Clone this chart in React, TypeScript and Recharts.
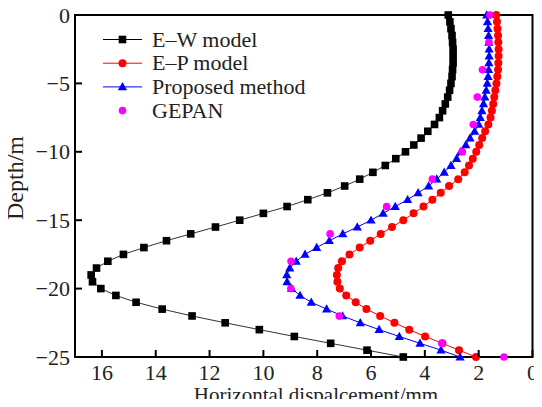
import { ScatterChart, Scatter, XAxis, YAxis, ReferenceArea } from "recharts"

// depth below ground (m), one point every 0.5 m
const depths = [
  0, -0.5, -1, -1.5, -2, -2.5, -3, -3.5, -4, -4.5, -5, -5.5, -6, -6.5, -7, -7.5, -8,
  -8.5, -9, -9.5, -10, -10.5, -11, -11.5, -12, -12.5, -13, -13.5, -14, -14.5, -15,
  -15.5, -16, -16.5, -17, -17.5, -18, -18.5, -19, -19.5, -20, -20.5, -21, -21.5, -22,
  -22.5, -23, -23.5, -24, -24.5, -25,
]

// horizontal displacement (mm)
const ewModel = [
  3.13, 3.07, 3.03, 2.99, 2.97, 2.95, 2.95, 2.95, 2.97, 2.99, 3.03, 3.08, 3.15, 3.24,
  3.34, 3.46, 3.64, 3.89, 4.14, 4.41, 4.72, 5.08, 5.47, 5.93, 6.42, 6.98, 7.62, 8.35,
  9.12, 10.0, 10.88, 11.78, 12.7, 13.6, 14.44, 15.2, 15.78, 16.2, 16.4, 16.35, 16.04,
  15.48, 14.73, 13.76, 12.65, 11.42, 10.15, 8.85, 7.5, 6.15, 4.8,
]

const epModel = [
  1.35, 1.32, 1.3, 1.28, 1.27, 1.26, 1.26, 1.27, 1.28, 1.31, 1.34, 1.38, 1.42, 1.46,
  1.51, 1.56, 1.64, 1.76, 1.87, 1.98, 2.09, 2.22, 2.36, 2.52, 2.76, 3.1, 3.41, 3.72,
  4.05, 4.42, 4.8, 5.22, 5.64, 6.03, 6.42, 6.8, 7.08, 7.22, 7.27, 7.25, 7.16, 6.92,
  6.57, 6.17, 5.66, 5.13, 4.58, 3.99, 3.35, 2.73, 2.1,
]

const proposed = [
  1.7, 1.67, 1.65, 1.63, 1.62, 1.61, 1.61, 1.62, 1.63, 1.65, 1.68, 1.72, 1.77, 1.82,
  1.88, 1.94, 2.0, 2.15, 2.32, 2.48, 2.67, 2.82, 3.03, 3.28, 3.56, 3.86, 4.25, 4.64,
  5.1, 5.55, 6.0, 6.51, 7.05, 7.55, 8.02, 8.45, 8.78, 9.02, 9.13, 9.12, 8.95, 8.64,
  8.22, 7.65, 7.06, 6.4, 5.7, 4.95, 4.18, 3.4, 2.69,
]

const gepanDepths = [0, -2, -4, -6, -8, -10, -12, -14, -16, -18, -20, -22, -24, -25]
const gepanValues = [1.58, 1.62, 1.86, 2.05, 2.2, 2.61, 3.72, 5.42, 7.52, 8.97, 8.98, 7.18, 3.37, 1.06]

const xTicks = [0, 2, 4, 6, 8, 10, 12, 14, 16]
const yTicks = [-25, -20, -15, -10, -5, 0]

const ewData = depths.map((d, i) => ({ x: ewModel[i], y: d }))
const epData = depths.map((d, i) => ({ x: epModel[i], y: d }))
const propData = depths.map((d, i) => ({ x: proposed[i], y: d }))
const gepanData = gepanDepths.map((d, i) => ({ x: gepanValues[i], y: d }))

const FONT = "'Liberation Serif', 'Times New Roman', serif"
const TXT = "#222"

const Square = ({ cx, cy }: any) => <rect x={cx - 3.8} y={cy - 3.8} width={7.6} height={7.6} fill="#000" />
const RedDot = ({ cx, cy }: any) => <circle cx={cx} cy={cy} r={4} fill="#ff0000" />
const Tri = ({ cx, cy }: any) => (
  <polygon points={`${cx},${cy - 4.8} ${cx - 4.6},${cy + 3.4} ${cx + 4.6},${cy + 3.4}`} fill="#0000ff" />
)
const PinkDot = ({ cx, cy }: any) => <circle cx={cx} cy={cy} r={3.8} fill="#ff00ff" />

const XTick = ({ x, y, payload }: any) => (
  <g>
    <line x1={x} y1={y} x2={x} y2={y - 7} stroke="#000" strokeWidth={2} />
    <text x={x} y={y + 23} textAnchor="middle" fontSize={22} fontFamily={FONT} fill={TXT}>
      {payload.value}
    </text>
  </g>
)

const YTick = ({ x, y, payload }: any) => (
  <g>
    <line x1={x} y1={y} x2={x + 7} y2={y} stroke="#000" strokeWidth={2} />
    <text x={x - 5} y={y + 7.5} textAnchor="end" fontSize={22} fontFamily={FONT} fill={TXT}>
      {String(payload.value).replace("-", "\u2212")}
    </text>
  </g>
)

const legendRows = [
  { name: "E\u2013W model", color: "#000", line: true, icon: "square" },
  { name: "E\u2013P model", color: "#ff0000", line: true, icon: "circle" },
  { name: "Proposed method", color: "#0000ff", line: true, icon: "triangle" },
  { name: "GEPAN", color: "#ff00ff", line: false, icon: "dot" },
]

function LegendIcon({ icon, cx, cy, color }: any) {
  if (icon === "square") return <Square cx={cx} cy={cy} />
  if (icon === "circle") return <RedDot cx={cx} cy={cy} />
  if (icon === "triangle") return <Tri cx={cx} cy={cy} />
  return <circle cx={cx} cy={cy} r={3.8} fill={color} />
}

export default function App() {
  return (
    <div style={{ position: "relative", width: 542, height: 407, margin: -8, background: "#fff" }}>
      <ScatterChart width={542} height={407} margin={{ top: 15, right: 9.5, bottom: 0, left: 0 }}>
        <XAxis
          type="number"
          dataKey="x"
          domain={[0, 17]}
          reversed
          ticks={xTicks}
          interval={0}
          axisLine={false}
          tickLine={false}
          tickSize={0}
          tickMargin={0}
          height={50}
          tick={<XTick />}
        />
        <YAxis
          type="number"
          dataKey="y"
          domain={[-25, 0]}
          ticks={yTicks}
          interval={0}
          axisLine={false}
          tickLine={false}
          tickSize={0}
          tickMargin={0}
          width={75}
          tick={<YTick />}
        />
        <ReferenceArea x1={0} x2={17} y1={-25} y2={0} fill="none" stroke="#000" strokeWidth={2} fillOpacity={0} />
        <Scatter data={ewData} shape={<Square />} line={{ stroke: "#333", strokeWidth: 1 }} isAnimationActive={false} />
        <Scatter data={epData} shape={<RedDot />} line={{ stroke: "#ff0000", strokeWidth: 1 }} isAnimationActive={false} />
        <Scatter data={propData} shape={<Tri />} line={{ stroke: "#0000ff", strokeWidth: 1 }} isAnimationActive={false} />
        <Scatter data={gepanData} shape={<PinkDot />} isAnimationActive={false} />
      </ScatterChart>
      <svg
        width={542}
        height={407}
        style={{ position: "absolute", left: 0, top: 0, pointerEvents: "none" }}
      >
        {legendRows.map((r, i) => {
          const cy = 39.5 + i * 23.7
          return (
            <g key={r.name}>
              {r.line && <line x1={103} y1={cy} x2={142} y2={cy} stroke={r.color} strokeWidth={1} />}
              <LegendIcon icon={r.icon} cx={122.5} cy={cy} color={r.color} />
              <text x={152} y={cy + 7} fontSize={22} fontFamily={FONT} fill={TXT}>
                {r.name}
              </text>
            </g>
          )
        })}
        <text x={316} y={402} textAnchor="middle" fontSize={21} fontFamily={FONT} fill={TXT}>
          Horizontal dispalcement/mm
        </text>
        <text
          transform="translate(23, 178) rotate(-90)"
          textAnchor="middle"
          fontSize={24}
          fontFamily={FONT}
          fill={TXT}
        >
          Depth/m
        </text>
      </svg>
    </div>
  )
}
